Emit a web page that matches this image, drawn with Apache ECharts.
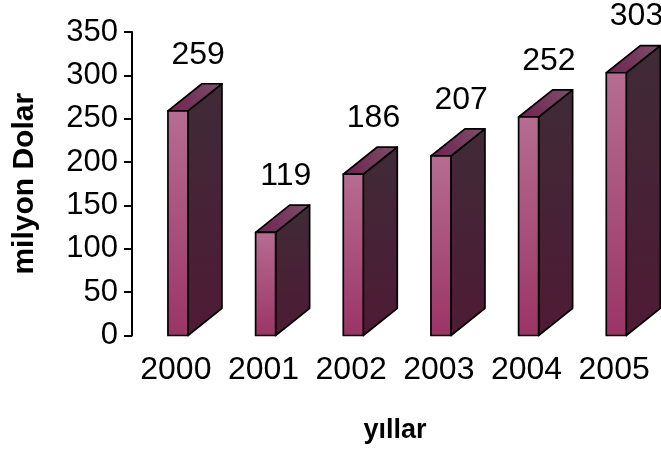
<!DOCTYPE html>
<html>
<head>
<meta charset="utf-8">
<script src="https://cdn.jsdelivr.net/npm/echarts@6/dist/echarts.min.js"></script>
<style>
  html, body { margin: 0; padding: 0; background: #ffffff; }
  #chart { width: 661px; height: 449px; }
</style>
</head>
<body>
<div id="chart"></div>
<script>
// Yearly totals, in millions of dollars
const years = ['2000', '2001', '2002', '2003', '2004', '2005'];
const values = [259, 119, 186, 207, 252, 303];
const yTicks = [0, 50, 100, 150, 200, 250, 300, 350];

const FONT = '"Liberation Sans", Arial, Helvetica, sans-serif';

const frontFill = new echarts.graphic.LinearGradient(0, 0, 0, 1, [
  { offset: 0, color: '#b66d91' },
  { offset: 1, color: '#9b3466' }
]);
const sideFill = new echarts.graphic.LinearGradient(0, 0, 0, 1, [
  { offset: 0, color: '#3f2b37' },
  { offset: 1, color: '#4f1a35' }
]);
const topFill = new echarts.graphic.LinearGradient(0, 1, 1, 0, [
  { offset: 0, color: '#6d2150' },
  { offset: 1, color: '#7e5069' }
]);

// Pseudo-3D box: front face, right side face and top face, plus a value label
function renderBox(params, api) {
  const idx = api.value(0);
  const val = api.value(1);
  const band = api.size([1, 0])[0];
  const top = api.coord([idx, val]);
  const base = api.coord([idx, 0]);
  const fw = band * 0.228;           // front face width
  const dx = band * 0.388;           // depth offset, horizontal
  const dy = band * 0.31;            // depth offset, vertical
  const fx = top[0] - band * 0.09;   // front face left edge
  const ty = top[1];
  const by = base[1];
  const line = { stroke: '#000', lineWidth: 1.7, lineJoin: 'round' };
  return {
    type: 'group',
    children: [
      {
        type: 'polygon',
        shape: { points: [[fx + fw, ty], [fx + fw + dx, ty - dy], [fx + fw + dx, by - dy], [fx + fw, by]] },
        style: Object.assign({ fill: sideFill }, line)
      },
      {
        type: 'polygon',
        shape: { points: [[fx, ty], [fx + dx, ty - dy], [fx + fw + dx, ty - dy], [fx + fw, ty]] },
        style: Object.assign({ fill: topFill }, line)
      },
      {
        type: 'rect',
        shape: { x: fx, y: ty, width: fw, height: by - ty },
        style: Object.assign({ fill: frontFill }, line)
      },
      {
        type: 'text',
        x: fx + band * 0.345,
        y: ty - dy - 13,
        style: {
          text: String(val),
          fontSize: 32,
          fontFamily: FONT,
          fill: '#000',
          align: 'center',
          verticalAlign: 'bottom'
        }
      }
    ]
  };
}

const chart = echarts.init(document.getElementById('chart'), null, { renderer: 'canvas' });
chart.setOption({
  animation: false,
  backgroundColor: '#ffffff',
  grid: { left: 132, right: 3, top: 32, bottom: 113.5, containLabel: false, outerBoundsMode: 'none' },
  xAxis: {
    type: 'category',
    data: years,
    name: 'yıllar',
    nameLocation: 'middle',
    nameGap: 82,
    nameTextStyle: { fontSize: 27, fontWeight: 'bold', fontFamily: FONT, color: '#000' },
    axisLine: { show: false },
    axisTick: { show: false },
    axisLabel: { interval: 0, fontSize: 32, fontFamily: FONT, color: '#000', margin: 19 },
    splitLine: { show: false }
  },
  yAxis: {
    type: 'value',
    min: yTicks[0],
    max: yTicks[yTicks.length - 1],
    interval: yTicks[1] - yTicks[0],
    name: 'milyon Dolar',
    nameLocation: 'middle',
    nameGap: 92,
    nameTextStyle: { fontSize: 30, fontWeight: 'bold', fontFamily: FONT, color: '#000' },
    axisLine: { show: true, lineStyle: { color: '#000', width: 2 } },
    axisTick: { show: true, length: 8, lineStyle: { color: '#000', width: 2 } },
    axisLabel: { fontSize: 31, fontFamily: FONT, color: '#000', margin: 14 },
    splitLine: { show: false }
  },
  series: [{
    type: 'custom',
    renderItem: renderBox,
    clip: false,
    data: years.map((y, i) => [i, values[i]])
  }]
});
</script>
</body>
</html>
